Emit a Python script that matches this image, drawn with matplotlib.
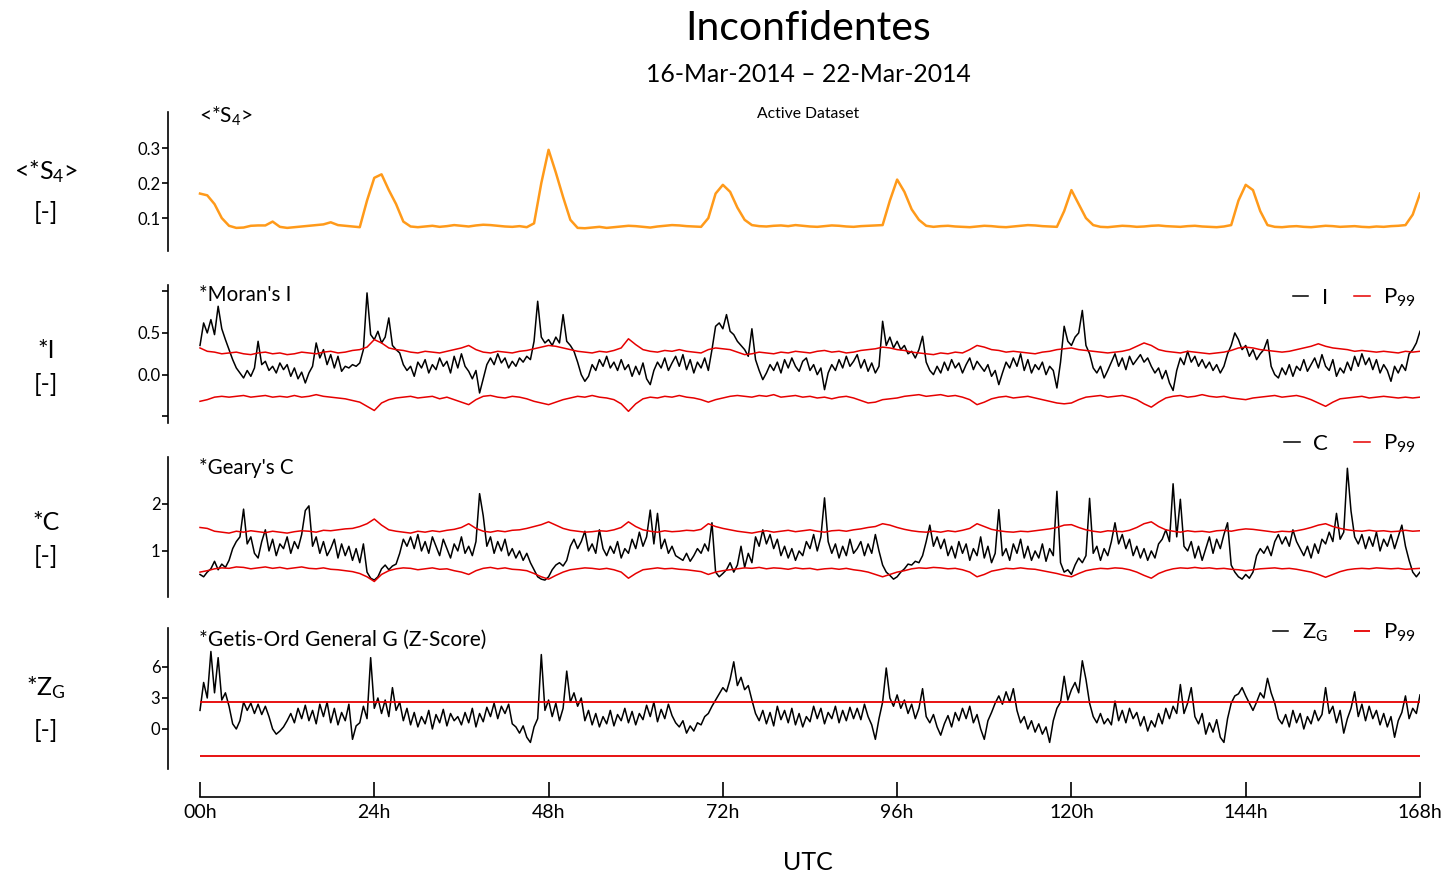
import numpy as np
import matplotlib
matplotlib.use("Agg")
import matplotlib.pyplot as plt

plt.rcParams['font.family'] = ['Lato', 'DejaVu Sans']
plt.rcParams['mathtext.fontset'] = 'custom'
plt.rcParams['mathtext.rm'] = 'Lato'
plt.rcParams['mathtext.it'] = 'Lato'

# ---- data ----
title = "Inconfidentes"
subtitle = "16-Mar-2014 \u2013 22-Mar-2014"
hour_ticks = [0, 24, 48, 72, 96, 120, 144, 168]
hour_labels = ["00h", "24h", "48h", "72h", "96h", "120h", "144h", "168h"]

# <*S4>, hourly
s4 = [.170, .165, .140, .100, .078, .072, .073, .078, .079, .079,
      .090, .075, .072, .074, .076, .078, .080, .082, .088, .080,
      .078, .076, .074, .150, .215, .225, .180, .140, .090, .076,
      .074, .076, .078, .075, .077, .080, .078, .076, .079, .081,
      .080, .078, .076, .075, .077, .074, .085, .200,
      .295, .230, .160, .095, .072, .071, .073, .075, .072, .074,
      .076, .078, .077, .075, .073, .076, .078, .080, .079, .077, .076, .075,
      .100, .170, .195, .175, .130, .095, .080, .077, .076, .078,
      .079, .077, .080, .078, .076, .075, .077, .079, .078, .076,
      .075, .077, .078, .079, .080, .150, .210, .175, .125, .095,
      .078, .075, .077, .078, .076, .075, .074, .076, .078, .077,
      .075, .074, .076, .078, .080, .079, .077, .076, .075, .120,
      .180, .140, .100, .080, .075, .074, .076, .078, .077, .075,
      .076, .078, .079, .077, .076, .075, .077, .078, .076, .075,
      .074, .076, .080, .150, .195, .180, .120, .080, .075, .074,
      .076, .077, .075, .074, .076, .078, .077, .075, .076, .077,
      .075, .074, .076, .075, .077, .078, .080, .110, .170]

# *Moran's I, half-hourly
moran_i = [
    0.35, 0.62, 0.50, 0.66, 0.48, 0.82, 0.55, 0.42, 0.30, 0.18, 0.08, 0.02,
    -0.04, 0.05, -0.02, 0.08, 0.40, 0.12, 0.16, 0.05, 0.10, 0.02, 0.14, 0.06,
    0.12, -0.02, 0.08, -0.05, 0.03, -0.10, 0.02, 0.10, 0.38, 0.20, 0.30, 0.12,
    0.24, 0.08, 0.22, 0.04, 0.10, 0.08, 0.12, 0.10, 0.14, 0.30, 0.98, 0.48,
    0.42, 0.52, 0.38, 0.45, 0.68, 0.35, 0.30, 0.26, 0.12, 0.05, 0.10, -0.02,
    0.15, 0.08, 0.18, 0.02, 0.12, 0.06, 0.20, 0.10, 0.16, 0.02, 0.22, 0.08,
    0.25, 0.10, 0.04, -0.05, 0.05, -0.22, -0.05, 0.12, 0.20, 0.12, 0.25, 0.14,
    0.20, 0.08, 0.16, 0.10, 0.20, 0.15, 0.22, 0.18, 0.40, 0.88, 0.45, 0.38,
    0.42, 0.35, 0.45, 0.38, 0.72, 0.40, 0.35, 0.28, 0.15, 0.00, -0.08, -0.02,
    0.12, 0.05, 0.18, 0.10, 0.22, 0.08, 0.15, 0.05, 0.18, 0.06, 0.12, -0.02,
    0.10, 0.00, 0.14, -0.05, -0.12, 0.05, 0.15, 0.08, 0.20, 0.05, 0.14, 0.22,
    0.10, 0.24, 0.06, 0.18, 0.02, 0.15, 0.08, 0.20, 0.05, 0.30, 0.58, 0.62,
    0.55, 0.72, 0.52, 0.48, 0.40, 0.35, 0.30, 0.22, 0.55, 0.18, 0.05, -0.06,
    0.02, 0.12, 0.05, 0.15, 0.02, 0.18, 0.08, 0.20, 0.10, 0.04, 0.16, 0.20,
    0.05, 0.12, 0.00, 0.08, -0.18, 0.02, 0.12, 0.05, 0.18, 0.08, 0.22, 0.10,
    0.16, 0.24, 0.08, 0.18, 0.04, 0.14, 0.02, 0.10, 0.64, 0.35, 0.45, 0.32,
    0.40, 0.30, 0.35, 0.25, 0.28, 0.20, 0.30, 0.46, 0.15, 0.05, 0.00, 0.10,
    0.02, 0.15, 0.05, 0.18, 0.08, 0.14, 0.02, 0.12, 0.20, 0.06, 0.16, 0.10,
    0.04, 0.12, -0.02, 0.05, -0.12, 0.02, 0.15, 0.08, 0.20, 0.10, 0.25, 0.05,
    0.18, 0.02, 0.12, 0.06, 0.15, 0.00, 0.10, 0.05, -0.16, 0.15, 0.58, 0.40,
    0.35, 0.45, 0.50, 0.77, 0.35, 0.25, 0.08, 0.02, 0.10, -0.04, 0.05, 0.15,
    0.25, 0.10, 0.20, 0.06, 0.22, 0.12, 0.18, 0.24, 0.15, 0.20, 0.10, 0.02,
    0.08, -0.05, 0.05, -0.10, -0.19, 0.05, 0.20, 0.12, 0.28, 0.15, 0.22, 0.10,
    0.18, 0.08, 0.15, 0.05, 0.12, 0.02, 0.10, 0.25, 0.35, 0.50, 0.42, 0.30,
    0.35, 0.22, 0.30, 0.18, 0.25, 0.30, 0.42, 0.10, 0.00, -0.04, 0.08, 0.00,
    0.12, -0.02, 0.10, 0.05, 0.18, 0.04, 0.12, 0.20, 0.08, 0.24, 0.10, 0.05,
    0.18, -0.02, 0.08, 0.02, 0.15, 0.05, 0.22, 0.10, 0.25, 0.12, 0.20, 0.06,
    0.18, 0.02, 0.12, 0.05, -0.08, 0.10, 0.02, 0.12, 0.05, 0.25, 0.30, 0.38, 0.52]

# P99 bounds of Moran's I, hourly
moran_hi = [
    0.32, 0.28, 0.27, 0.25, 0.26, 0.27, 0.25, 0.24, 0.26, 0.27, 0.25, 0.26,
    0.24, 0.25, 0.27, 0.26, 0.25, 0.27, 0.28, 0.26, 0.27, 0.29, 0.30, 0.33,
    0.42, 0.38, 0.32, 0.30, 0.29, 0.27, 0.26, 0.28, 0.27, 0.26, 0.28, 0.30,
    0.32, 0.35, 0.30, 0.27, 0.26, 0.28, 0.27, 0.26, 0.28, 0.29, 0.31, 0.33,
    0.35, 0.34, 0.32, 0.30, 0.28, 0.27, 0.26, 0.28, 0.27, 0.29, 0.32, 0.43,
    0.36, 0.30, 0.28, 0.27, 0.29, 0.28, 0.30, 0.28, 0.27, 0.26, 0.30, 0.32,
    0.31, 0.30, 0.27, 0.24, 0.25, 0.27, 0.26, 0.25, 0.27, 0.26, 0.28, 0.27,
    0.26, 0.28, 0.29, 0.27, 0.28, 0.26, 0.27, 0.29, 0.30, 0.31, 0.33, 0.32,
    0.30, 0.29, 0.27, 0.26, 0.25, 0.24, 0.26, 0.25, 0.27, 0.26, 0.30, 0.35,
    0.33, 0.30, 0.29, 0.27, 0.28, 0.27, 0.26, 0.25, 0.27, 0.28, 0.30, 0.31,
    0.32, 0.30, 0.29, 0.28, 0.27, 0.26, 0.27, 0.28, 0.30, 0.34, 0.38, 0.35,
    0.30, 0.28, 0.27, 0.26, 0.28, 0.27, 0.26, 0.25, 0.26, 0.27, 0.29, 0.32,
    0.33, 0.32, 0.30, 0.29, 0.28, 0.27, 0.28, 0.30, 0.32, 0.34, 0.37, 0.34,
    0.32, 0.31, 0.30, 0.28, 0.29, 0.28, 0.27, 0.28, 0.27, 0.26, 0.28, 0.27, 0.28]
moran_lo = [
    -0.32, -0.30, -0.27, -0.26, -0.27, -0.26, -0.25, -0.27, -0.26, -0.25, -0.27, -0.26,
    -0.27, -0.25, -0.27, -0.26, -0.24, -0.26, -0.27, -0.28, -0.29, -0.31, -0.33, -0.38,
    -0.43, -0.34, -0.30, -0.28, -0.27, -0.26, -0.28, -0.27, -0.26, -0.29, -0.27, -0.30,
    -0.33, -0.36, -0.30, -0.26, -0.25, -0.27, -0.28, -0.26, -0.27, -0.29, -0.32, -0.34,
    -0.36, -0.33, -0.30, -0.28, -0.26, -0.27, -0.25, -0.27, -0.28, -0.30, -0.35, -0.44,
    -0.35, -0.29, -0.27, -0.28, -0.26, -0.27, -0.25, -0.27, -0.28, -0.30, -0.33, -0.30,
    -0.28, -0.26, -0.25, -0.26, -0.27, -0.25, -0.26, -0.24, -0.27, -0.26, -0.25, -0.27,
    -0.26, -0.28, -0.27, -0.29, -0.27, -0.26, -0.28, -0.31, -0.34, -0.33, -0.30, -0.29,
    -0.28, -0.26, -0.25, -0.24, -0.26, -0.25, -0.24, -0.26, -0.25, -0.27, -0.30, -0.36,
    -0.33, -0.29, -0.27, -0.26, -0.28, -0.27, -0.26, -0.28, -0.30, -0.32, -0.34, -0.35,
    -0.34, -0.30, -0.27, -0.26, -0.25, -0.27, -0.26, -0.25, -0.27, -0.30, -0.35, -0.39,
    -0.33, -0.28, -0.26, -0.25, -0.27, -0.26, -0.24, -0.26, -0.27, -0.26, -0.28, -0.29,
    -0.30, -0.28, -0.27, -0.26, -0.25, -0.27, -0.26, -0.25, -0.27, -0.30, -0.34, -0.38,
    -0.33, -0.29, -0.28, -0.27, -0.26, -0.28, -0.27, -0.26, -0.27, -0.28, -0.27, -0.28, -0.27]

# *Geary's C, half-hourly
geary_c = [
    0.50, 0.45, 0.55, 0.62, 0.78, 0.60, 0.72, 0.65, 0.80, 1.05, 1.20, 1.30,
    1.89, 1.15, 1.30, 0.95, 0.85, 1.20, 1.45, 1.00, 1.25, 0.90, 1.15, 1.05,
    1.30, 0.95, 1.20, 1.05, 1.35, 1.86, 1.96, 1.10, 1.30, 0.95, 1.20, 0.90,
    1.05, 1.25, 0.85, 1.15, 0.90, 1.10, 0.80, 1.05, 0.75, 1.15, 0.55, 0.42,
    0.38, 0.45, 0.62, 0.70, 0.60, 0.68, 0.72, 0.95, 1.25, 1.10, 1.30, 1.05,
    1.35, 1.00, 1.20, 0.95, 1.30, 1.10, 0.90, 1.25, 1.05, 0.85, 1.15, 1.00,
    1.30, 0.95, 1.10, 0.90, 1.20, 2.22, 1.75, 1.10, 1.30, 0.95, 1.20, 1.00,
    1.25, 0.90, 1.05, 0.85, 1.00, 0.80, 0.95, 0.75, 0.60, 0.45, 0.40, 0.38,
    0.45, 0.60, 0.70, 0.75, 0.68, 0.80, 1.10, 1.25, 1.05, 1.20, 1.42, 1.00,
    1.15, 0.95, 1.45, 1.05, 0.90, 1.10, 0.95, 1.20, 0.85, 1.05, 0.95, 1.25,
    1.05, 1.40, 1.10, 1.30, 1.87, 1.15, 1.80, 1.05, 1.25, 0.95, 1.10, 0.90,
    0.85, 0.80, 0.95, 0.78, 0.90, 1.05, 0.95, 1.15, 1.00, 1.60, 0.55, 0.45,
    0.52, 0.60, 0.75, 0.55, 0.70, 1.10, 0.65, 0.95, 0.75, 1.30, 1.10, 1.45,
    1.15, 1.35, 1.05, 1.25, 0.90, 1.10, 0.85, 1.05, 0.80, 1.00, 0.90, 1.20,
    1.05, 1.35, 1.00, 1.30, 2.13, 1.20, 0.95, 1.15, 0.85, 1.10, 0.90, 1.25,
    0.95, 1.05, 1.20, 0.90, 1.15, 0.95, 1.35, 1.00, 0.70, 0.55, 0.48, 0.40,
    0.45, 0.55, 0.62, 0.72, 0.70, 0.78, 0.75, 0.90, 1.20, 1.55, 1.10, 1.30,
    1.05, 1.25, 0.90, 1.10, 0.85, 1.20, 0.95, 1.15, 0.80, 1.05, 0.90, 1.30,
    0.85, 1.10, 0.75, 0.95, 1.88, 0.90, 1.05, 0.80, 1.15, 0.95, 1.25, 0.85,
    1.10, 0.80, 1.00, 0.85, 1.15, 0.78, 1.05, 0.90, 2.27, 0.75, 0.55, 0.60,
    0.50, 0.70, 0.85, 0.75, 0.90, 2.12, 0.95, 1.10, 0.80, 1.05, 0.90, 1.20,
    1.60, 1.15, 1.35, 1.05, 1.25, 0.90, 1.10, 0.85, 1.05, 0.80, 1.00, 0.85,
    1.15, 1.25, 1.45, 1.20, 2.43, 1.30, 2.10, 1.10, 1.00, 1.20, 0.85, 1.10,
    0.80, 1.05, 1.30, 0.95, 1.25, 1.05, 1.35, 1.60, 0.70, 0.55, 0.45, 0.40,
    0.50, 0.42, 0.55, 0.90, 1.05, 0.95, 1.10, 0.90, 1.20, 1.35, 1.15, 1.30,
    1.10, 1.45, 1.20, 1.05, 0.90, 1.10, 0.85, 1.15, 0.95, 1.25, 1.15, 1.40,
    1.20, 1.80, 1.25, 1.40, 2.76, 1.85, 1.30, 1.15, 1.35, 1.05, 1.30, 1.10,
    1.40, 1.00, 1.25, 1.10, 1.35, 1.05, 1.30, 1.55, 1.10, 0.80, 0.55, 0.45, 0.55]

# P99 bounds of Geary's C, hourly
geary_hi = [
    1.50, 1.48, 1.42, 1.40, 1.38, 1.42, 1.40, 1.43, 1.41, 1.39, 1.42, 1.40,
    1.38, 1.41, 1.43, 1.42, 1.40, 1.44, 1.43, 1.45, 1.47, 1.48, 1.52, 1.58,
    1.68, 1.55, 1.45, 1.42, 1.40, 1.38, 1.42, 1.40, 1.43, 1.41, 1.44, 1.46,
    1.50, 1.58, 1.48, 1.42, 1.40, 1.43, 1.41, 1.44, 1.45, 1.48, 1.52, 1.56,
    1.62, 1.55, 1.48, 1.44, 1.42, 1.40, 1.41, 1.43, 1.42, 1.45, 1.50, 1.62,
    1.52, 1.45, 1.42, 1.40, 1.43, 1.41, 1.42, 1.44, 1.43, 1.46, 1.58, 1.52,
    1.48, 1.45, 1.42, 1.40, 1.38, 1.41, 1.43, 1.40, 1.42, 1.44, 1.41, 1.43,
    1.45, 1.42, 1.40, 1.43, 1.44, 1.42, 1.45, 1.47, 1.50, 1.52, 1.58, 1.55,
    1.50, 1.46, 1.43, 1.41, 1.40, 1.42, 1.40, 1.43, 1.41, 1.44, 1.48, 1.58,
    1.52, 1.46, 1.43, 1.41, 1.40, 1.42, 1.41, 1.43, 1.45, 1.47, 1.50, 1.55,
    1.56, 1.50, 1.45, 1.42, 1.40, 1.43, 1.42, 1.41, 1.44, 1.50, 1.58, 1.62,
    1.52, 1.45, 1.42, 1.40, 1.43, 1.41, 1.42, 1.40, 1.43, 1.44, 1.42, 1.45,
    1.47, 1.46, 1.44, 1.42, 1.40, 1.42, 1.41, 1.43, 1.46, 1.50, 1.55, 1.58,
    1.52, 1.48, 1.45, 1.43, 1.42, 1.44, 1.42, 1.43, 1.41, 1.42, 1.44, 1.42, 1.43]
geary_lo = [
    0.55, 0.58, 0.62, 0.64, 0.63, 0.66, 0.65, 0.62, 0.64, 0.66, 0.63, 0.65,
    0.62, 0.64, 0.66, 0.63, 0.62, 0.64, 0.61, 0.60, 0.58, 0.56, 0.52, 0.45,
    0.35, 0.50, 0.58, 0.62, 0.64, 0.63, 0.60, 0.62, 0.64, 0.61, 0.62, 0.58,
    0.55, 0.50, 0.58, 0.63, 0.65, 0.62, 0.64, 0.61, 0.60, 0.58, 0.52, 0.45,
    0.40, 0.48, 0.55, 0.60, 0.62, 0.64, 0.63, 0.61, 0.63, 0.60, 0.55, 0.42,
    0.52, 0.60, 0.62, 0.64, 0.62, 0.63, 0.61, 0.60, 0.58, 0.56, 0.50, 0.55,
    0.58, 0.60, 0.62, 0.64, 0.63, 0.65, 0.62, 0.64, 0.63, 0.61, 0.64, 0.62,
    0.63, 0.60, 0.62, 0.63, 0.61, 0.63, 0.60, 0.58, 0.55, 0.50, 0.45, 0.50,
    0.55, 0.58, 0.62, 0.64, 0.63, 0.65, 0.64, 0.62, 0.63, 0.60, 0.55, 0.45,
    0.50, 0.57, 0.60, 0.63, 0.62, 0.64, 0.62, 0.61, 0.58, 0.55, 0.52, 0.48,
    0.45, 0.52, 0.58, 0.61, 0.63, 0.62, 0.64, 0.63, 0.60, 0.55, 0.48, 0.42,
    0.52, 0.58, 0.62, 0.64, 0.63, 0.65, 0.63, 0.64, 0.62, 0.63, 0.61, 0.60,
    0.58, 0.60, 0.62, 0.63, 0.64, 0.62, 0.63, 0.61, 0.58, 0.55, 0.50, 0.44,
    0.50, 0.56, 0.60, 0.62, 0.63, 0.62, 0.64, 0.63, 0.62, 0.63, 0.61, 0.62, 0.63]

# *Getis-Ord General G Z-score, half-hourly
z_g = [
    1.8, 4.5, 3.0, 7.5, 3.5, 6.9, 2.8, 3.5, 2.2, 0.5, 0.0, 0.8,
    2.6, 1.8, 2.5, 1.5, 2.4, 1.4, 2.2, 1.2, 0.0, -0.5, -0.2, 0.2,
    0.8, 1.5, 0.6, 2.0, 1.0, 2.3, 0.8, 1.8, 0.5, 2.4, 1.2, 2.6,
    0.6, 2.0, 0.4, 1.6, 0.8, 2.4, -1.0, 0.3, 0.6, 2.2, 1.0, 6.9,
    2.0, 3.0, 1.5, 2.8, 1.2, 4.0, 1.8, 2.6, 0.8, 2.0, 0.4, 1.6,
    0.2, 1.2, 0.5, 1.8, 0.0, 1.4, 0.6, 1.9, 0.3, 1.5, 0.8, 1.2,
    0.4, 1.6, 0.6, 2.0, 0.2, 1.5, 0.7, 2.1, 1.2, 2.5, 1.0, 2.2,
    1.5, 2.4, 0.5, 0.2, -0.4, 0.3, -0.8, -1.3, 0.2, 1.0, 7.2, 1.8,
    2.8, 1.2, 2.5, 0.8, 2.0, 5.6, 2.6, 3.5, 2.2, 3.0, 0.8, 1.8,
    0.4, 1.5, 0.2, 1.2, 0.5, 1.8, 0.3, 1.4, 0.8, 2.0, 0.6, 1.7,
    0.4, 1.5, 0.9, 2.3, 1.2, 2.6, 0.7, 1.9, 1.0, 2.4, 1.3, 0.6,
    0.2, 0.8, -0.4, 0.3, -0.2, 0.6, 0.4, 1.2, 1.5, 2.2, 2.8, 3.4,
    4.0, 3.6, 4.8, 6.5, 4.2, 5.0, 3.8, 4.2, 2.8, 1.5, 0.8, 1.8,
    0.5, 1.6, 0.3, 2.2, 0.9, 1.8, 0.6, 2.0, 0.4, 1.5, 0.2, 1.2,
    0.7, 2.2, 1.0, 2.0, 0.5, 1.6, 1.0, 2.2, 0.6, 1.8, 0.8, 2.1,
    1.0, 2.0, 0.9, 2.4, 1.2, 0.4, -1.0, 1.0, 2.6, 5.9, 3.0, 2.2,
    3.3, 2.0, 2.8, 1.5, 2.4, 1.0, 2.0, 3.9, 1.2, 0.6, 1.4, 0.2,
    -0.6, 0.5, 1.3, 0.2, 1.6, 0.8, 2.0, 1.0, 2.2, 0.6, 1.4, 0.0,
    -1.0, 0.8, 1.6, 2.5, 3.2, 2.4, 3.6, 2.6, 3.9, 1.8, 0.6, 1.2,
    0.0, 0.8, -0.3, 0.5, -0.5, 0.2, -1.3, 0.8, 2.0, 2.6, 5.1, 2.8,
    3.8, 4.5, 3.5, 6.6, 4.8, 2.5, 1.2, 0.6, 1.5, 0.5, 1.0, 0.4,
    2.7, 0.8, 1.8, 0.6, 2.0, 1.0, 1.6, 0.3, 1.2, -0.2, 0.8, 0.2,
    1.5, 0.5, 2.0, 1.0, 2.2, 1.5, 4.3, 1.5, 2.5, 4.0, 1.2, 0.5,
    1.5, -0.5, 0.6, -0.3, 0.9, -0.8, -1.3, 1.0, 2.5, 3.2, 3.4, 4.0,
    3.2, 2.5, 1.8, 2.6, 3.5, 3.0, 4.9, 3.5, 2.5, 1.0, 0.5, 1.4,
    0.2, 1.8, 0.6, 1.5, 0.0, 1.2, 0.5, 1.8, 0.8, 1.4, 4.0, 1.5,
    2.2, 0.6, 1.8, -0.4, 1.0, 2.0, 3.6, 1.2, 2.4, 0.8, 2.2, 1.0,
    1.8, 0.4, 1.5, 0.2, 1.2, -0.8, 0.8, 1.6, 3.2, 1.0, 2.0, 1.5, 3.3]
z_p99 = [2.576, -2.576]

# ---- layout helpers (pixel -> figure fraction) ----
W, H = 1446, 875
def fx(px):
    return px / W
def fy(py):
    return 1 - py / H

ORANGE = '#ff9a1a'
RED = '#e60000'

fig = plt.figure(figsize=(W / 100, H / 100), dpi=100)

x_left, x0, x1 = 168, 200, 1420
hours_per_px = 168 / (x1 - x0)
xmin = -(x0 - x_left) * hours_per_px

def make_panel(top, bottom, ylim, ticks, labels):
    ax = fig.add_axes([fx(x_left), fy(bottom), fx(x1) - fx(x_left), (bottom - top) / H])
    ax.set_xlim(xmin, 168)
    ax.set_ylim(*ylim)
    for s in ['top', 'right', 'bottom']:
        ax.spines[s].set_visible(False)
    ax.spines['left'].set_linewidth(1.2)
    ax.set_xticks([])
    ax.set_yticks(ticks)
    ax.set_yticklabels(labels)
    ax.tick_params(axis='y', direction='out', length=4.5, width=1.2, pad=1, labelsize=12)
    ax.patch.set_alpha(0)
    return ax

t_s4 = np.arange(len(s4))
t_half = np.arange(len(moran_i)) * 0.5

# panel 1: S4
ax1 = make_panel(112, 251, (0.006, 0.403), [0.1, 0.2, 0.3], ['0.1', '0.2', '0.3'])
ax1.plot(t_s4, s4, color=ORANGE, lw=1.8)

# panel 2: Moran's I
ax2 = make_panel(285, 423, (-0.58, 1.075), [-0.5, 0.0, 0.5, 1.0], ['', '0.0', '0.5', ''])
ax2.plot(t_half, moran_i, color='black', lw=1.1, label='I')
ax2.plot(np.arange(len(moran_hi)), moran_hi, color=RED, lw=1.1, label=r'P$_{\mathregular{99}}$')
ax2.plot(np.arange(len(moran_lo)), moran_lo, color=RED, lw=1.1)

# panel 3: Geary's C
ax3 = make_panel(457, 597, (0.02, 3.0), [1, 2], ['1', '2'])
ax3.plot(np.arange(len(geary_c)) * 0.5, geary_c, color='black', lw=1.1, label='C')
ax3.plot(np.arange(len(geary_hi)), geary_hi, color=RED, lw=1.1, label=r'P$_{\mathregular{99}}$')
ax3.plot(np.arange(len(geary_lo)), geary_lo, color=RED, lw=1.1)

# panel 4: Getis-Ord Z
ax4 = make_panel(628, 769, (-3.87, 9.77), [0, 3, 6], ['0', '3', '6'])
ax4.plot(np.arange(len(z_g)) * 0.5, z_g, color='black', lw=1.1, label=r'Z$_{\mathregular{G}}$')
ax4.hlines(z_p99, 0, 168, color=RED, lw=1.3, label=r'P$_{\mathregular{99}}$')

# legends
for ax, ypx in [(ax2, 287), (ax3, 433), (ax4, 622)]:
    handles, labels = ax.get_legend_handles_labels()
    ax.legend(handles[:2], labels[:2], loc='upper right', ncol=2, frameon=False,
              bbox_to_anchor=(fx(1416), fy(ypx)), bbox_transform=fig.transFigure,
              fontsize=16, handlelength=0.7, handletextpad=0.6, columnspacing=1.2,
              borderpad=0, borderaxespad=0)

# panel titles
fig.text(fx(199), fy(116), r'<*S$_{\mathregular{4}}$>', fontsize=15, va='center', ha='left')
fig.text(fx(199), fy(295), "*Moran's I", fontsize=14.8, va='center', ha='left')
fig.text(fx(199), fy(468), "*Geary's C", fontsize=14.8, va='center', ha='left')
fig.text(fx(199), fy(640), "*Getis-Ord General G (Z-Score)", fontsize=15, va='center', ha='left')
fig.text(fx(808), fy(114), "Active Dataset", fontsize=11.3, va='center', ha='center')

# left y labels
left_labels = [(r'<*S$_{\mathregular{4}}$>', 172, '[-]', 212),
               ('*I', 350, '[-]', 385),
               ('*C', 522, '[-]', 557),
               (r'*Z$_{\mathregular{G}}$', 688, '[-]', 730)]
for name, y_name, unit, y_unit in left_labels:
    fig.text(fx(46), fy(y_name), name, fontsize=18, va='center', ha='center')
    fig.text(fx(46), fy(y_unit), unit, fontsize=18, va='center', ha='center')

# titles
fig.text(fx(808), fy(29), title, fontsize=29.5, va='center', ha='center')
fig.text(fx(808), fy(74), subtitle, fontsize=17.8, va='center', ha='center')

# time axis
axt = fig.add_axes([fx(x0), fy(797), fx(x1) - fx(x0), 0.001])
axt.set_xlim(0, 168)
axt.set_yticks([])
for s in ['top', 'right', 'left']:
    axt.spines[s].set_visible(False)
axt.spines['bottom'].set_linewidth(1.2)
axt.set_xticks(hour_ticks)
axt.set_xticklabels(hour_labels)
axt.tick_params(axis='x', direction='in', length=11, width=1.2, pad=5, labelsize=14)
axt.patch.set_alpha(0)

fig.text(fx(808), fy(862), "UTC", fontsize=18, va='center', ha='center')

fig.savefig("out.png", dpi=100)
